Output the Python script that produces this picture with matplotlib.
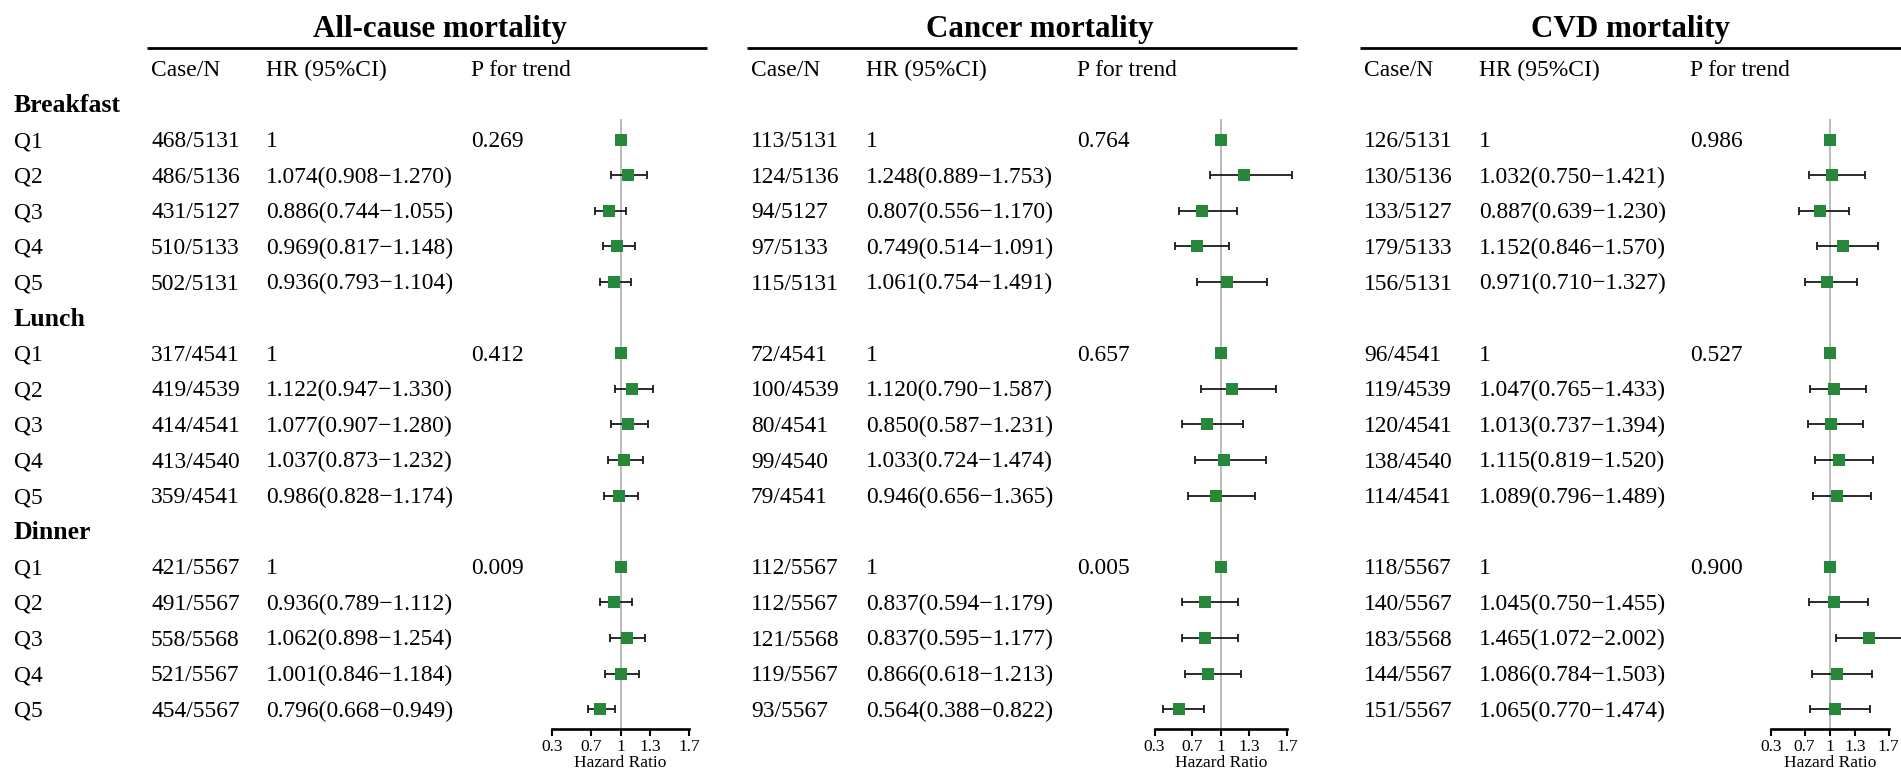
import numpy as np
import matplotlib.pyplot as plt

plt.rcParams['font.family'] = ['Liberation Serif', 'DejaVu Serif']

# ---- data -------------------------------------------------------------
groups = ['Breakfast', 'Lunch', 'Dinner']
quintiles = ['Q1', 'Q2', 'Q3', 'Q4', 'Q5']
outcomes = ['All-cause mortality', 'Cancer mortality', 'CVD mortality']

allcause_cases = ['468/5131', '486/5136', '431/5127', '510/5133', '502/5131',
                  '317/4541', '419/4539', '414/4541', '413/4540', '359/4541',
                  '421/5567', '491/5567', '558/5568', '521/5567', '454/5567']
allcause_hr = [1, 1.074, 0.886, 0.969, 0.936,
               1, 1.122, 1.077, 1.037, 0.986,
               1, 0.936, 1.062, 1.001, 0.796]
allcause_lo = [np.nan, 0.908, 0.744, 0.817, 0.793,
               np.nan, 0.947, 0.907, 0.873, 0.828,
               np.nan, 0.789, 0.898, 0.846, 0.668]
allcause_hi = [np.nan, 1.270, 1.055, 1.148, 1.104,
               np.nan, 1.330, 1.280, 1.232, 1.174,
               np.nan, 1.112, 1.254, 1.184, 0.949]
allcause_p = ['0.269', '0.412', '0.009']

cancer_cases = ['113/5131', '124/5136', '94/5127', '97/5133', '115/5131',
                '72/4541', '100/4539', '80/4541', '99/4540', '79/4541',
                '112/5567', '112/5567', '121/5568', '119/5567', '93/5567']
cancer_hr = [1, 1.248, 0.807, 0.749, 1.061,
             1, 1.120, 0.850, 1.033, 0.946,
             1, 0.837, 0.837, 0.866, 0.564]
cancer_lo = [np.nan, 0.889, 0.556, 0.514, 0.754,
             np.nan, 0.790, 0.587, 0.724, 0.656,
             np.nan, 0.594, 0.595, 0.618, 0.388]
cancer_hi = [np.nan, 1.753, 1.170, 1.091, 1.491,
             np.nan, 1.587, 1.231, 1.474, 1.365,
             np.nan, 1.179, 1.177, 1.213, 0.822]
cancer_p = ['0.764', '0.657', '0.005']

cvd_cases = ['126/5131', '130/5136', '133/5127', '179/5133', '156/5131',
             '96/4541', '119/4539', '120/4541', '138/4540', '114/4541',
             '118/5567', '140/5567', '183/5568', '144/5567', '151/5567']
cvd_hr = [1, 1.032, 0.887, 1.152, 0.971,
          1, 1.047, 1.013, 1.115, 1.089,
          1, 1.045, 1.465, 1.086, 1.065]
cvd_lo = [np.nan, 0.750, 0.639, 0.846, 0.710,
          np.nan, 0.765, 0.737, 0.819, 0.796,
          np.nan, 0.750, 1.072, 0.784, 0.770]
cvd_hi = [np.nan, 1.421, 1.230, 1.570, 1.327,
          np.nan, 1.433, 1.394, 1.520, 1.489,
          np.nan, 1.455, 2.002, 1.503, 1.474]
cvd_p = ['0.986', '0.527', '0.900']

xticks = [0.3, 0.7, 1, 1.3, 1.7]
xtick_labels = ['0.3', '0.7', '1', '1.3', '1.7']

# ---- layout (pixels) --------------------------------------------------
W, H = 1901, 774
row0, drow = 104, 35.6
header_y = 68.5
title_y = 37
rule_y = 48.3
axis_y, ref_top = 729.3, 119

panels = [
    dict(cases=allcause_cases, hr=allcause_hr, lo=allcause_lo, hi=allcause_hi, p=allcause_p,
         x_case=151, x_hr=266, x_p=471, x_forest=(551.7, 689.3), title_x=440, rule=(147, 707)),
    dict(cases=cancer_cases, hr=cancer_hr, lo=cancer_lo, hi=cancer_hi, p=cancer_p,
         x_case=751, x_hr=866, x_p=1077, x_forest=(1154.5, 1287), title_x=1040, rule=(747, 1297)),
    dict(cases=cvd_cases, hr=cvd_hr, lo=cvd_lo, hi=cvd_hi, p=cvd_p,
         x_case=1364, x_hr=1479, x_p=1690, x_forest=(1771, 1888.5), title_x=1630, rule=(1360, 1905)),
]

body_fs = 16.9
green = '#27883c'


def row_y(k):
    return row0 + drow * k


def hr_text(hr, lo, hi):
    if np.isnan(lo):
        return '1'
    return '{:.3f}({:.3f}\u2212{:.3f})'.format(hr, lo, hi)


fig = plt.figure(figsize=(W / 100, H / 100), dpi=100)
tab = fig.add_axes([0, 0, 1, 1])
tab.set_xlim(0, W)
tab.set_ylim(H, 0)
tab.axis('off')

# row labels
for g, grp in enumerate(groups):
    k = g * 6
    tab.text(14, row_y(k) + 8, grp, fontsize=18.5, fontweight='bold', va='baseline')
    for q, lab in enumerate(quintiles):
        tab.text(14, row_y(k + 1 + q) + 7.5, lab, fontsize=body_fs, va='baseline')

for name, pn in zip(outcomes, panels):
    tab.text(pn['title_x'], title_y, name, fontsize=22.3, fontweight='bold',
             ha='center', va='baseline')
    tab.plot(pn['rule'], [rule_y, rule_y], color='black', lw=2, solid_capstyle='butt')
    for x, lab in [(pn['x_case'], 'Case/N'), (pn['x_hr'], 'HR (95%CI)'), (pn['x_p'], 'P for trend')]:
        tab.text(x, header_y + 8, lab, fontsize=body_fs, va='baseline')

    for g in range(3):
        for q in range(5):
            i = g * 5 + q
            y = row_y(g * 6 + 1 + q) + 7.5
            tab.text(pn['x_case'], y, pn['cases'][i], fontsize=body_fs, va='baseline')
            tab.text(pn['x_hr'], y, hr_text(pn['hr'][i], pn['lo'][i], pn['hi'][i]),
                     fontsize=body_fs, va='baseline')
        tab.text(pn['x_p'], row_y(g * 6 + 1) + 7.5, pn['p'][g], fontsize=body_fs, va='baseline')

    # forest axis
    x0, x1 = pn['x_forest']
    ax = fig.add_axes([x0 / W, 1 - axis_y / H, (x1 - x0) / W, (axis_y - ref_top) / H])
    ax.set_facecolor('none')
    ax.set_xlim(0.3, 1.7)
    ax.set_ylim((axis_y - row0) / drow, (ref_top - row0) / drow)
    ax.axvline(1, color='#b5b5b5', lw=1.3, zorder=1)

    hr = np.array(pn['hr'])
    lo = np.array(pn['lo'])
    hi = np.array(pn['hi'])
    rows = np.array([g * 6 + 1 + q for g in range(3) for q in range(5)])
    has_ci = ~np.isnan(lo)
    line, caps, bars = ax.errorbar(hr[has_ci], rows[has_ci],
                                   xerr=[hr[has_ci] - lo[has_ci], hi[has_ci] - hr[has_ci]],
                                   fmt='none', ecolor='#1a1a1a', elinewidth=1.3,
                                   capsize=2.8, capthick=1.3, zorder=2)
    for art in list(caps) + list(bars):
        art.set_clip_on(False)
    ax.plot(hr, rows, 's', color=green, markersize=8.8, markeredgewidth=0, zorder=3,
            clip_on=False)

    for side in ['left', 'top', 'right']:
        ax.spines[side].set_visible(False)
    ax.spines['bottom'].set_linewidth(1.9)
    ax.set_yticks([])
    ax.set_xticks(xticks)
    ax.set_xticklabels(xtick_labels)
    ax.tick_params(axis='x', direction='out', length=5.2, width=1.5, pad=1.5, labelsize=12.5)
    ax.set_xlabel('Hazard Ratio', fontsize=12.5, labelpad=0)

fig.savefig('out.png', dpi=100)
